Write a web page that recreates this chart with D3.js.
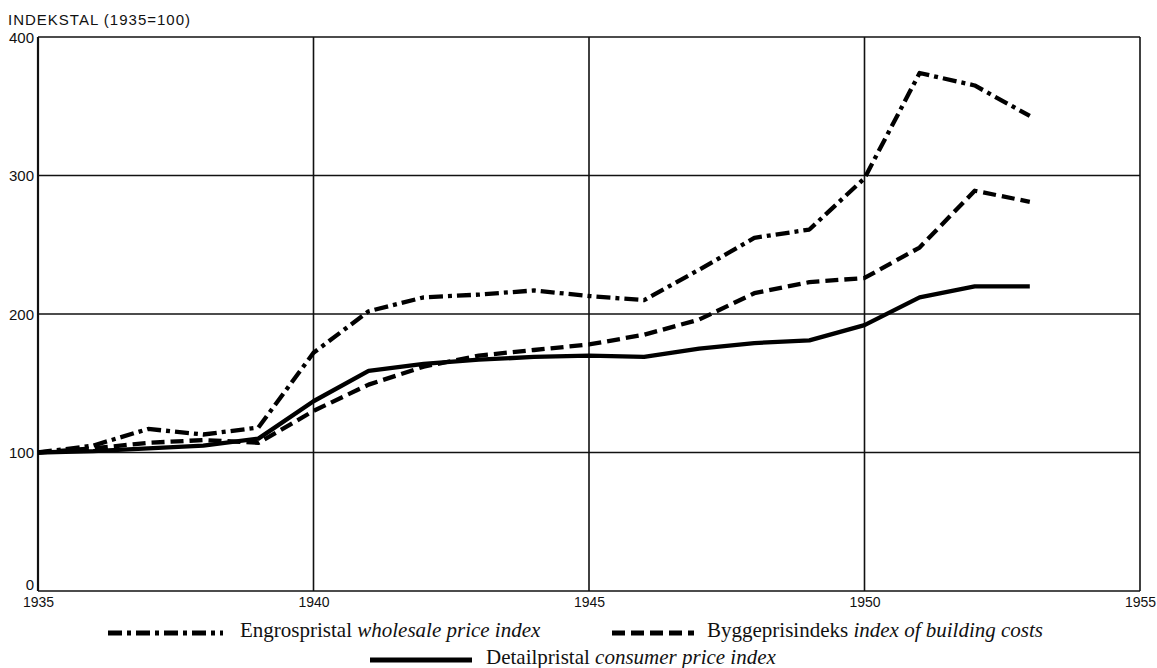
<!DOCTYPE html>
<html>
<head>
<meta charset="utf-8">
<script src="https://cdn.jsdelivr.net/npm/d3@7"></script>
<style>
  html, body { margin: 0; padding: 0; background: #fff; }
  svg { display: block; }
</style>
</head>
<body>
<svg id="chart" width="1157" height="668"></svg>
<script>
const years = [1935,1936,1937,1938,1939,1940,1941,1942,1943,1944,1945,1946,1947,1948,1949,1950,1951,1952,1953];
const wholesale = [100,105,117,113,118,172,202,212,214,217,213,210,232,255,261,298,374,365,343];
const building  = [100,103,107,109,107,130,149,162,170,174,178,185,196,215,223,226,248,289,281];
const consumer  = [100,101,103,105,110,137,159,164,167,169,170,169,175,179,181,192,212,220,220];
const xTicks = [1935,1940,1945,1950,1955];
const yTicks = [0,100,200,300,400];
const yTitle = "INDEKSTAL (1935=100)";
const legendItems = [
  {name: "Engrospristal", italic: "wholesale price index", key: "wholesale"},
  {name: "Byggeprisindeks", italic: "index of building costs", key: "building"},
  {name: "Detailpristal", italic: "consumer price index", key: "consumer"}
];

const styles = {
  wholesale: {dash: "14,5,4,5"},
  building: {dash: "13,6"},
  consumer: {dash: null}
};

const svg = d3.select("#chart");
const margin = {left: 38, right: 16, top: 37, bottom: 77};
const W = 1157, H = 668;
const x = d3.scaleLinear().domain([1935,1955]).range([margin.left, W - margin.right - 1]);
const y = d3.scaleLinear().domain([0,400]).range([H - margin.bottom, margin.top]);
const sans = "Liberation Sans, Arial, sans-serif";

// grid
const g = svg.append("g");
g.selectAll("line.h").data(yTicks).enter().append("line")
  .attr("x1", x(1935)).attr("x2", x(1955))
  .attr("y1", d => y(d)).attr("y2", d => y(d))
  .attr("stroke", "#111").attr("stroke-width", 1.6);
g.selectAll("line.v").data(xTicks).enter().append("line")
  .attr("y1", y(0)).attr("y2", y(400))
  .attr("x1", d => x(d)).attr("x2", d => x(d))
  .attr("stroke", "#111").attr("stroke-width", d => d === 1935 ? 2.2 : 1.6);

// axes labels
const yAxis = d3.axisLeft(y).tickValues(yTicks).tickSize(0).tickPadding(4).tickFormat(d3.format("d"));
const ya = svg.append("g").attr("transform", `translate(${x(1935)},0)`).call(yAxis);
ya.select(".domain").remove();
ya.selectAll("text").attr("font-family", sans).attr("font-size", 15).attr("fill", "#111")
  .attr("dy", d => d === 0 ? "-0.1em" : "0.34em");

const xAxis = d3.axisBottom(x).tickValues(xTicks).tickSize(0).tickPadding(6).tickFormat(d3.format("d"));
const xa = svg.append("g").attr("transform", `translate(0,${y(0)})`).call(xAxis);
xa.select(".domain").remove();
xa.selectAll("text").attr("font-family", sans).attr("font-size", 14).attr("fill", "#111");

svg.append("text").attr("x", 8).attr("y", 25)
  .attr("font-family", sans).attr("font-size", 15)
  .attr("letter-spacing", 1).attr("fill", "#111").text(yTitle);

// lines
const line = d3.line().x((d,i) => x(years[i])).y(d => y(d));
const series = {wholesale, building, consumer};
Object.keys(series).forEach(k => {
  svg.append("path").datum(series[k]).attr("d", line)
    .attr("fill", "none").attr("stroke", "#000").attr("stroke-width", 4.3)
    .attr("stroke-linejoin", "round")
    .attr("stroke-dasharray", styles[k].dash);
});

// legend
const legPos = [
  {x1: 108, x2: 223, tx: 240, ty: 637},
  {x1: 612, x2: 694, tx: 707, ty: 637},
  {x1: 370, x2: 472, tx: 486, ty: 664}
];
legendItems.forEach((it, i) => {
  const p = legPos[i];
  svg.append("line").attr("x1", p.x1).attr("x2", p.x2).attr("y1", p.ty - 4).attr("y2", p.ty - 4)
    .attr("stroke", "#000").attr("stroke-width", 5)
    .attr("stroke-dasharray", styles[it.key].dash);
  const t = svg.append("text").attr("x", p.tx).attr("y", p.ty)
    .attr("font-family", "Liberation Serif, Times New Roman, serif").attr("font-size", 21).attr("fill", "#111");
  t.append("tspan").text(it.name + " ");
  t.append("tspan").attr("font-style", "italic").text(it.italic);
});
</script>
</body>
</html>
